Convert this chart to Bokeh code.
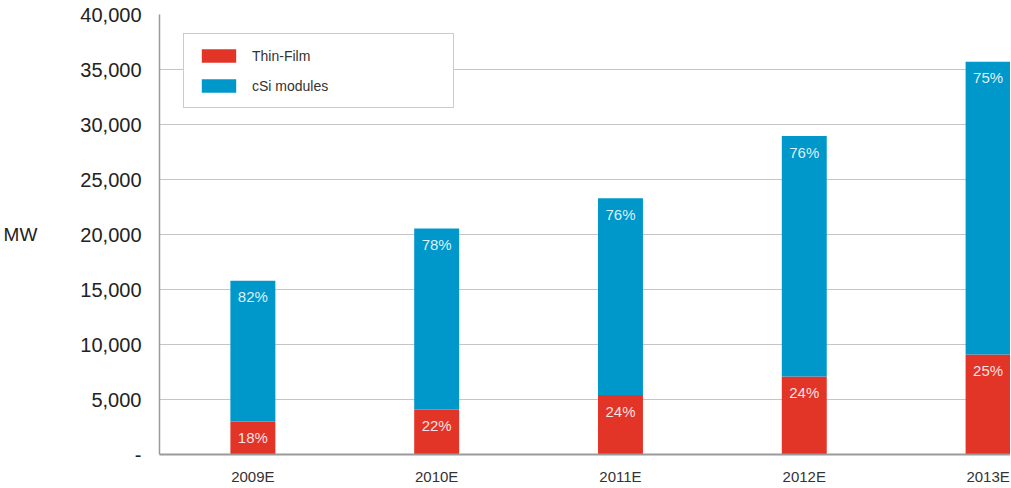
from bokeh.plotting import figure
from bokeh.models import ColumnDataSource, FixedTicker, NumeralTickFormatter, Legend, LegendItem, Range1d
from bokeh.core.properties import value
from bokeh.embed import file_html
from bokeh.resources import INLINE

# ---- data ----
years = ["2009E", "2010E", "2011E", "2012E", "2013E"]
thin_film = [3000, 4100, 5400, 7100, 9100]
csi_modules = [12800, 16450, 17900, 21850, 26600]
thin_pct = ["18%", "22%", "24%", "24%", "25%"]
csi_pct = ["82%", "78%", "76%", "76%", "75%"]
y_ticks = [0, 5000, 10000, 15000, 20000, 25000, 30000, 35000, 40000]

RED = "#E33428"
BLUE = "#0098CB"
FONT = "Liberation Sans"

xs = list(range(len(years)))
totals = [a + b for a, b in zip(thin_film, csi_modules)]
src = ColumnDataSource(dict(x=xs, thin=thin_film, total=totals,
                            zero=[0] * len(xs), tp=thin_pct, cp=csi_pct))

p = figure(width=1010, height=487, output_backend="svg", toolbar_location=None,
           x_range=Range1d(-0.508, 4.122), y_range=Range1d(0, 40000),
           min_border_left=158, min_border_right=0, min_border_top=14,
           min_border_bottom=33)
p.outline_line_color = None

r_thin = p.vbar(x="x", bottom="zero", top="thin", width=0.2446, source=src,
                fill_color=RED, line_color=None)
r_csi = p.vbar(x="x", bottom="thin", top="total", width=0.2446, source=src,
               fill_color=BLUE, line_color=None)

p.text(x="x", y="thin", text="tp", source=src, text_color="white", text_alpha=0.88,
       text_align="center", text_baseline="middle", y_offset=16,
       text_font=value(FONT), text_font_size="15px")
p.text(x="x", y="total", text="cp", source=src, text_color="white", text_alpha=0.88,
       text_align="center", text_baseline="middle", y_offset=16,
       text_font=value(FONT), text_font_size="15px")

# axes
p.xaxis.ticker = FixedTicker(ticks=xs)
p.xaxis.major_label_overrides = {i: y for i, y in enumerate(years)}
p.xaxis.major_tick_line_color = None
p.xaxis.major_tick_out = 0
p.xaxis.major_tick_in = 0
p.xaxis.minor_tick_line_color = None
p.xaxis.minor_tick_out = 0
p.xaxis.axis_line_color = "#9a9a9a"
p.xaxis.axis_line_width = 2
p.xaxis.major_label_text_font = FONT
p.xaxis.major_label_text_font_size = "15px"
p.xaxis.major_label_text_color = "#333333"
p.xaxis.major_label_standoff = 13

p.yaxis.ticker = FixedTicker(ticks=y_ticks)
p.yaxis.formatter = NumeralTickFormatter(format="0,0")
p.yaxis.major_label_overrides = {0: "-"}
p.yaxis.major_tick_line_color = None
p.yaxis.major_tick_out = 0
p.yaxis.major_tick_in = 0
p.yaxis.minor_tick_line_color = None
p.yaxis.minor_tick_out = 0
p.yaxis.axis_line_color = "#9a9a9a"
p.yaxis.axis_line_width = 1.5
p.yaxis.major_label_text_font = FONT
p.yaxis.major_label_text_font_size = "20px"
p.yaxis.major_label_text_color = "#222222"
p.yaxis.major_label_standoff = 18
p.yaxis.axis_label = "MW"
p.yaxis.axis_label_orientation = "horizontal"
p.yaxis.axis_label_text_font = FONT
p.yaxis.axis_label_text_font_size = "19px"
p.yaxis.axis_label_text_font_style = "normal"
p.yaxis.axis_label_text_color = "#222222"
p.yaxis.axis_label_standoff = 40

p.xgrid.grid_line_color = None
p.ygrid.grid_line_color = "#8a8a8a"
p.ygrid.grid_line_dash = "1 1"
p.ygrid.grid_line_width = 1

legend = Legend(items=[LegendItem(label="Thin-Film", renderers=[r_thin]),
                       LegendItem(label="cSi modules", renderers=[r_csi])],
                location=(24, 346))
legend.glyph_width = 43
legend.glyph_height = 17
legend.label_height = 17
legend.label_width = 188
legend.label_standoff = 12
legend.spacing = 13
legend.padding = 13
legend.margin = 0
legend.label_text_font = FONT
legend.label_text_font_size = "14px"
legend.label_text_color = "#333333"
legend.border_line_color = "#9a9a9a"
legend.border_line_width = 1.5
legend.background_fill_color = "white"
legend.background_fill_alpha = 1
p.add_layout(legend, "center")

open("out.html", "w").write(file_html(p, INLINE))
